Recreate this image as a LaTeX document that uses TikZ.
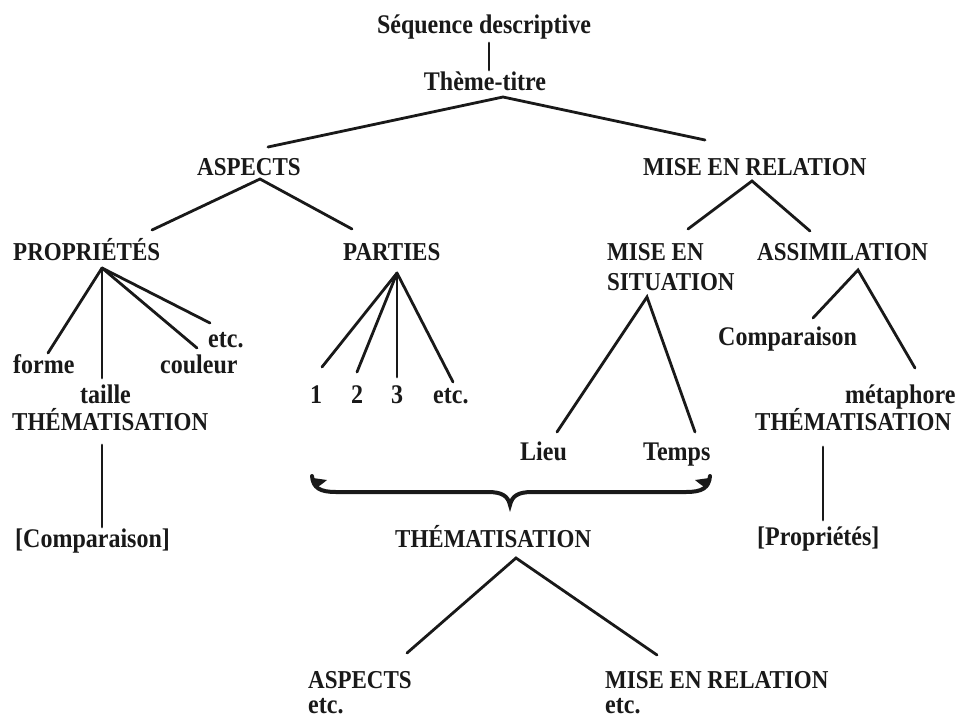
\documentclass[tikz,border=0pt]{standalone}
\usepackage{fontspec}
\setmainfont{Liberation Serif}
\usepackage{graphicx}
\newcommand{\vs}[1]{\scalebox{1}[1.12]{#1}}
\begin{document}
\begin{tikzpicture}[x=1pt,y=-1pt,
  txt/.style={inner sep=0pt, anchor=base west, text=black!90, font=\fontsize{23}{27}\selectfont\bfseries},
  ltxt/.style={txt, font=\fontsize{24}{28}\selectfont\bfseries},
  ctxt/.style={ltxt, anchor=base},
  ln/.style={line width=2.8pt, line cap=round, black!90}]
\useasboundingbox[fill=white] (0,0) rectangle (959,718);

% texts
\node[ctxt] (seq) at (484,33) {\vs{Séquence descriptive}};
\node[ctxt] (theme) at (485,90) {\vs{Thème-titre}};
\node[txt] (asp) at (197,175) {\vs{ASPECTS}};
\node[txt] (mer) at (643,175) {\vs{MISE EN RELATION}};
\node[txt] (prop) at (13,260) {\vs{PROPRIÉTÉS}};
\node[txt] (part) at (343,260) {\vs{PARTIES}};
\node[txt] (mise) at (607,260) {\vs{MISE EN}};
\node[txt] (sit) at (607,290) {\vs{SITUATION}};
\node[txt] (assim) at (757,260) {\vs{ASSIMILATION}};
\node[ltxt] (forme) at (13,373) {\vs{forme}};
\node[ltxt] (taille) at (80,403) {\vs{taille}};
\node[ltxt] (couleur) at (160,373) {\vs{couleur}};
\node[ltxt] (etcp) at (208,347) {\vs{etc.}};
\node[txt] (themL) at (12,430) {\vs{THÉMATISATION}};
\node[ctxt] (n1) at (316,403) {\vs{1}};
\node[ctxt] (n2) at (357,403) {\vs{2}};
\node[ctxt] (n3) at (397,403) {\vs{3}};
\node[ltxt] (etcn) at (433,403) {\vs{etc.}};
\node[ltxt] (lieu) at (520,460) {\vs{Lieu}};
\node[ltxt] (temps) at (643,460) {\vs{Temps}};
\node[ltxt] (comp) at (718,345) {\vs{Comparaison}};
\node[ltxt] (meta) at (845,403) {\vs{métaphore}};
\node[txt] (themR) at (755,430) {\vs{THÉMATISATION}};
\node[ltxt] (compB) at (15,547) {\vs{[Comparaison]}};
\node[ltxt] (propB) at (757,545) {\vs{[Propriétés]}};
\node[txt] (themC) at (395,547) {\vs{THÉMATISATION}};
\node[txt] (aspB) at (308,688) {\vs{ASPECTS}};
\node[ltxt] (etcA) at (308,713) {\vs{etc.}};
\node[txt] (merB) at (605,688) {\vs{MISE EN RELATION}};
\node[ltxt] (etcM) at (605,713) {\vs{etc.}};

% connector ends
\coordinate (seqB) at (489,43);
\coordinate (themeT) at (489,70);
\coordinate (themeA) at (503,97);
\coordinate (aspT) at (268,147);
\coordinate (merT) at (705,140);
\coordinate (aspA) at (260,179);
\coordinate (propT) at (152,230);
\coordinate (partT) at (352,229);
\coordinate (merA) at (752,181);
\coordinate (miseT) at (688,229);
\coordinate (assimT) at (810,231);
\coordinate (propA) at (102,268);
\coordinate (formeT) at (48,353);
\coordinate (tailleT) at (102,378);
\coordinate (couleurT) at (197,348);
\coordinate (etcpT) at (210,323);
\coordinate (partA) at (397,273);
\coordinate (n1T) at (322,367);
\coordinate (n2T) at (357,372);
\coordinate (n3T) at (397,377);
\coordinate (etcnT) at (453,382);
\coordinate (sitA) at (647,297);
\coordinate (lieuT) at (557,432);
\coordinate (tempsT) at (695,432);
\coordinate (assimA) at (858,270);
\coordinate (compT) at (813,318);
\coordinate (metaT) at (915,368);
\coordinate (themLB) at (102,445);
\coordinate (compBT) at (102,527);
\coordinate (themRB) at (823,447);
\coordinate (propBT) at (823,520);
\coordinate (themCA) at (516,558);
\coordinate (aspBT) at (407,653);
\coordinate (merBT) at (657,655);

% connectors
\draw[ln] (seqB) -- (themeT);
\draw[ln] (aspT) -- (themeA) -- (merT);
\draw[ln] (propT) -- (aspA) -- (partT);
\draw[ln] (miseT) -- (merA) -- (assimT);
\draw[ln] (propA) -- (formeT);
\draw[ln] (propA) -- (tailleT);
\draw[ln] (propA) -- (couleurT);
\draw[ln] (propA) -- (etcpT);
\draw[ln] (partA) -- (n1T);
\draw[ln] (partA) -- (n2T);
\draw[ln] (partA) -- (n3T);
\draw[ln] (partA) -- (etcnT);
\draw[ln] (lieuT) -- (sitA) -- (tempsT);
\draw[ln] (compT) -- (assimA) -- (metaT);
\draw[ln] (themLB) -- (compBT);
\draw[ln] (themRB) -- (propBT);
\draw[ln] (aspBT) -- (themCA) -- (merBT);

% brace
\draw[line width=4pt, black!90, line cap=round]
  (312,476) .. controls (313,488) and (320,492) .. (336,492) -- (488,492)
  .. controls (502,492) and (508,496) .. (510,505)
  .. controls (512,496) and (518,492) .. (532,492) -- (686,492)
  .. controls (702,492) and (709,488) .. (710,476);
\fill[black!90] (313,478) -- (327,480) .. controls (322,484) and (318,488) .. (314,487) -- cycle;
\fill[black!90] (709,478) -- (695,480) .. controls (700,484) and (704,488) .. (708,487) -- cycle;
\end{tikzpicture}
\end{document}
